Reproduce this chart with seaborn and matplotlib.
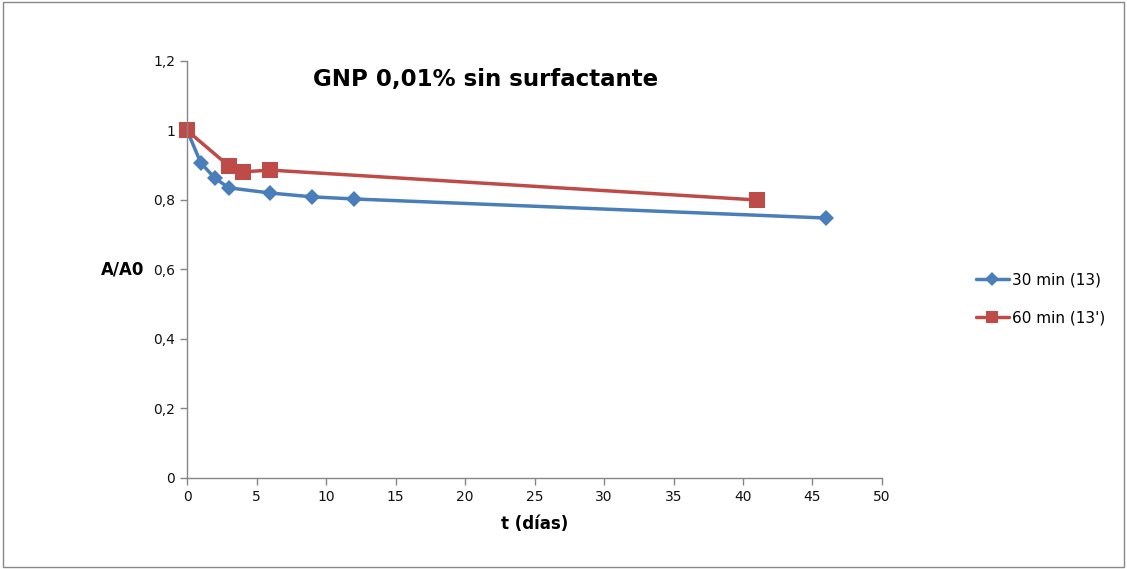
import matplotlib
matplotlib.use("Agg")
import matplotlib.pyplot as plt
import seaborn as sns
import pandas as pd
from matplotlib.patches import Rectangle

t30 = [0, 1, 2, 3, 6, 9, 12, 46]
a30 = [1.0, 0.906, 0.863, 0.835, 0.820, 0.809, 0.803, 0.748]
t60 = [0, 3, 4, 6, 41]
a60 = [1.0, 0.898, 0.881, 0.886, 0.800]
series_names = ["30 min (13)", "60 min (13')"]
yticks = [0, 0.2, 0.4, 0.6, 0.8, 1.0, 1.2]
ytick_labels = ["0", "0,2", "0,4", "0,6", "0,8", "1", "1,2"]
xticks = [0, 5, 10, 15, 20, 25, 30, 35, 40, 45, 50]

df = pd.concat([
    pd.DataFrame({"t": t30, "A": a30, "serie": series_names[0]}),
    pd.DataFrame({"t": t60, "A": a60, "serie": series_names[1]}),
])

sns.set_theme(style="white")
plt.rcParams['font.family'] = ['DejaVu Sans']

fig = plt.figure(figsize=(11.27, 5.69), dpi=100)
ax = fig.add_axes([0.166, 0.16, 0.6166, 0.7328])

sns.lineplot(data=df, x="t", y="A", hue="serie", style="serie",
             palette=["#4A7EBB", "#BE4B48"], markers=["D", "s"], dashes=False,
             linewidth=2.5, markersize=9, markeredgewidth=0, ax=ax, sort=False)
for ln in ax.lines:
    ln.set_clip_on(False)
    if ln.get_marker() == "s":
        ln.set_markersize(11)
    elif ln.get_marker() == "D":
        ln.set_markersize(8)

ax.set_xlim(0, 50)
ax.set_ylim(0, 1.2)
ax.set_xticks(xticks)
ax.set_xticklabels([str(v) for v in xticks])
ax.set_yticks(yticks)
ax.set_yticklabels(ytick_labels)
ax.tick_params(axis="both", which="both", direction="out", length=5, width=1,
               color="#868686", labelsize=10, labelcolor="#111111", bottom=True, left=True)
for s in ["top", "right"]:
    ax.spines[s].set_visible(False)
for s in ["left", "bottom"]:
    ax.spines[s].set_color("#868686")
    ax.spines[s].set_linewidth(1)

ax.set_xlabel("t (días)", fontsize=12, fontweight="bold", labelpad=8, color="black")
ax.set_ylabel("A/A0", fontsize=12, fontweight="bold", rotation=0, labelpad=22, va="center", color="black")
ax.text(0.43, 0.955, "GNP 0,01% sin surfactante", transform=ax.transAxes,
        fontsize=16.5, fontweight="bold", ha="center", va="center", color="black")

leg = ax.legend(title=None, loc="center left", bbox_to_anchor=(1.115, 0.43),
                frameon=False, fontsize=11, handlelength=2.2, labelspacing=1.5,
                handletextpad=0.2, markerscale=0.85)
for txt in leg.get_texts():
    txt.set_color("black")

fig.patches.append(Rectangle((0.003, 0.003), 0.994, 0.994, transform=fig.transFigure,
                             fill=False, edgecolor="#888888", linewidth=1))

fig.savefig("out.png", dpi=100)
